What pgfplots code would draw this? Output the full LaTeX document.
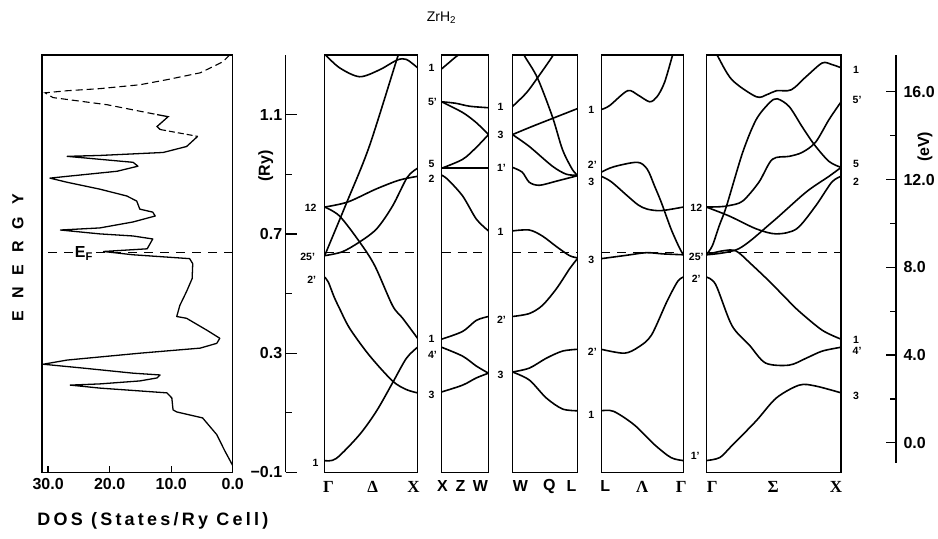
\documentclass[border=0pt]{standalone}
\usepackage{fontspec}
\setmainfont{Liberation Sans}
\newfontfamily\grk{Liberation Serif}
\newfontfamily\spaced[LetterSpace=18]{Liberation Sans}
\usepackage{pgfplots}
\pgfplotsset{compat=1.18}
\pgfplotsset{
 panel/.style={scale only axis, anchor=south west, height=418pt, xmin=0, xmax=1, ymin=-0.1, ymax=1.3,
   xtick=\empty, ytick=\empty, axis line style={line width=1.4pt}},
 band/.style={black, line width=1.6pt, smooth, tension=0.5, no markers},
 ef/.style={black, line width=1.1pt, dash pattern=on 9pt off 7pt, no markers},
}
\newcommand{\bl}[1]{{\fontsize{10.5}{10.5}\selectfont\bfseries #1}}
\newcommand{\gl}[1]{{\fontsize{17}{17}\selectfont\grk\bfseries #1}}
\newcommand{\ssl}[1]{{\fontsize{16}{16}\selectfont\bfseries #1}}

\begin{document}
\begin{tikzpicture}
\path (0,0) rectangle (938pt,539pt);

% ---------------- DOS panel ----------------
\begin{axis}[scale only axis, anchor=south west, at={(42pt,66pt)}, width=191pt, height=418pt,
  x dir=reverse, xmin=0, xmax=31, ymin=-0.1, ymax=1.3,
  xtick={0,10,20,30}, xticklabels={0.0,10.0,20.0,30.0}, xtick pos=left, ytick=\empty,
  tick align=inside, major tick length=7pt, tick style={black, line width=1.3pt},
  axis line style={line width=1.4pt},
  xticklabel style={font=\fontsize{16}{16}\selectfont\bfseries, yshift=-2pt}]
\addplot[black, line width=1.1pt, dash pattern=on 7pt off 4pt] coordinates {
(0.5,1.30)(1.6,1.277)(5.3,1.24)(10.7,1.217)(15.1,1.20)(21.6,1.187)(26.9,1.18)(30.5,1.173)
(29.2,1.157)(20.4,1.133)(12.3,1.10)};
\addplot[black, line width=1.3pt] coordinates {(12.3,1.10)(10.5,1.093)(12.3,1.06)(11.8,1.05)};
\addplot[black, line width=1.1pt, dash pattern=on 6pt off 3pt] coordinates {(11.8,1.05)(5.7,1.027)};
\addplot[black, line width=1.3pt, line join=round] coordinates {
(5.7,1.027)(7.5,0.993)(11.3,0.973)(21.6,0.963)(26.9,0.960)(16.2,0.94)(15.4,0.927)(18.8,0.91)
(26.9,0.893)(29.7,0.887)(26.9,0.873)(21.6,0.85)(17.2,0.827)(15.6,0.81)(15.1,0.783)(13.0,0.773)
(12.6,0.76)(16.2,0.74)(21.6,0.72)(28.0,0.713)(21.6,0.70)(16.2,0.693)(13.0,0.683)(13.9,0.65)
(21.0,0.641)(16.2,0.63)(7.0,0.617)(6.5,0.60)(6.6,0.55)(7.5,0.507)(8.6,0.46)(9.1,0.423)(7.5,0.417)
(4.2,0.377)(2.1,0.35)(2.6,0.333)(5.3,0.317)(15.1,0.30)(26.9,0.277)(30.8,0.263)(24.3,0.25)
(16.2,0.233)(11.8,0.227)(12.3,0.217)(15.1,0.207)(21.6,0.197)(26.4,0.193)(21.6,0.183)(10.7,0.167)
(9.9,0.15)(9.7,0.11)(9.1,0.103)(4.9,0.083)(2.6,0.027)(1.3,-0.027)(0,-0.077)};
\addplot[ef] coordinates {(0,0.637)(31,0.637)};
\end{axis}

% ---------------- Ry axis ----------------
\begin{axis}[scale only axis, anchor=south west, at={(286pt,66pt)}, width=10pt, height=418pt,
  xmin=0, xmax=1, ymin=-0.1, ymax=1.3, axis x line=none, axis y line*=left,
  y axis line style={-, line width=1.3pt},
  ytick={-0.1,0.3,0.7,1.1}, yticklabels={−0.1,0.3,0.7,1.1}, minor ytick={0.1,0.5,0.9},
  tick align=inside, major tick length=11pt, minor tick length=6pt,
  tick style={black, line width=1.3pt},
  yticklabel style={font=\fontsize{16}{16}\selectfont\bfseries}]
\end{axis}

% ---------------- eV axis ----------------
\begin{axis}[scale only axis, anchor=south east, at={(897pt,76pt)}, width=10pt, height=408pt,
  xmin=0, xmax=1, ymin=-0.9, ymax=17.68, axis x line=none, axis y line*=right,
  y axis line style={-, line width=1.3pt},
  ytick={0,4,8,12,16}, yticklabels={0.0,4.0,8.0,12.0,16.0}, minor ytick={2,6,10,14},
  tick align=inside, major tick length=10pt, minor tick length=6pt,
  tick style={black, line width=1.3pt},
  yticklabel style={font=\fontsize{16}{16}\selectfont\bfseries, xshift=4pt}]
\end{axis}

% ---------------- Panel 1: Gamma-Delta-X ----------------
\begin{axis}[panel, at={(325pt,66pt)}, width=93pt]
\addplot[band] coordinates {(0,1.303)(0.16,1.257)(0.376,1.227)(0.59,1.25)(0.78,1.283)(0.88,1.285)(1,1.257)};
\addplot[band] coordinates {(0,0.627)(0.24,0.807)(0.48,0.993)(0.785,1.293)(0.84,1.34)};
\addplot[band] coordinates {(0,0.79)(0.25,0.807)(0.55,0.85)(0.8,0.88)(1,0.893)};
\addplot[band] coordinates {(0,0.627)(0.19,0.64)(0.376,0.673)(0.56,0.717)(0.73,0.793)(0.89,0.89)(1,0.92)};
\addplot[band] coordinates {(0,0.79)(0.16,0.76)(0.376,0.673)(0.54,0.593)(0.73,0.46)(0.84,0.417)(1,0.35)};
\addplot[band] coordinates {(0,0.555)(0.04,0.538)(0.1,0.49)(0.16,0.45)(0.27,0.383)(0.48,0.293)(0.73,0.207)(0.88,0.178)(1,0.167)};
\addplot[band] coordinates {(0,-0.06)(0.125,-0.053)(0.376,0.027)(0.56,0.107)(0.73,0.2)(0.88,0.283)(1,0.32)};
\addplot[ef] coordinates {(0,0.637)(1,0.637)};
\end{axis}

% ---------------- Panel 2: X-Z-W ----------------
\begin{axis}[panel, at={(442pt,66pt)}, width=47pt]
\addplot[band] coordinates {(0,1.253)(0.15,1.273)(0.3,1.293)(0.45,1.31)(0.6,1.33)};
\addplot[band] coordinates {(0,1.143)(0.3,1.138)(0.6,1.128)(1,1.123)};
\addplot[band] coordinates {(0,1.143)(0.45,1.107)(0.74,1.073)(1,1.033)};
\addplot[band] coordinates {(0,0.92)(1,0.92)};
\addplot[band] coordinates {(0,0.92)(0.45,0.95)(0.74,0.99)(1,1.033)};
\addplot[band] coordinates {(0,0.897)(0.13,0.883)(0.45,0.827)(0.74,0.75)(1,0.71)};
\addplot[band] coordinates {(0,0.347)(0.45,0.373)(0.74,0.41)(1,0.423)};
\addplot[band] coordinates {(0,0.32)(0.45,0.29)(0.74,0.257)(1,0.233)};
\addplot[band] coordinates {(0,0.17)(0.45,0.193)(0.74,0.217)(1,0.233)};
\addplot[ef] coordinates {(0,0.637)(1,0.637)};
\end{axis}

% ---------------- Panel 3: W-Q-L ----------------
\begin{axis}[panel, at={(513pt,66pt)}, width=65pt]
\addplot[band] coordinates {(0,1.127)(0.215,1.173)(0.385,1.223)(0.62,1.297)(0.72,1.34)};
\addplot[band] coordinates {(0.12,1.33)(0.185,1.297)(0.385,1.223)(0.615,1.093)(0.77,0.983)(0.92,0.917)(1,0.897)};
\addplot[band] coordinates {(0,1.033)(0.3,1.06)(0.615,1.087)(1,1.12)};
\addplot[band] coordinates {(0,1.033)(0.26,0.993)(0.615,0.927)(0.83,0.9)(1,0.897)};
\addplot[band] coordinates {(0,0.923)(0.15,0.907)(0.26,0.873)(0.415,0.863)(0.68,0.877)(1,0.895)};
\addplot[band] coordinates {(0,0.71)(0.26,0.713)(0.46,0.693)(0.68,0.657)(0.88,0.627)(1,0.62)};
\addplot[band] coordinates {(0,0.423)(0.26,0.433)(0.46,0.46)(0.68,0.517)(0.88,0.583)(1,0.617)};
\addplot[band] coordinates {(0,0.237)(0.26,0.25)(0.52,0.283)(0.77,0.307)(1,0.313)};
\addplot[band] coordinates {(0,0.237)(0.26,0.21)(0.52,0.15)(0.77,0.113)(1,0.107)};
\addplot[ef] coordinates {(0,0.637)(1,0.637)};
\end{axis}

% ---------------- Panel 4: L-Lambda-Gamma ----------------
\begin{axis}[panel, at={(602pt,66pt)}, width=82pt]
\addplot[band] coordinates {(0,1.117)(0.1,1.13)(0.32,1.18)(0.45,1.165)(0.59,1.143)(0.68,1.16)(0.77,1.207)(0.87,1.30)(0.9,1.33)};
\addplot[band] coordinates {(0,0.907)(0.15,0.925)(0.44,0.94)(0.56,0.917)(0.65,0.86)(0.73,0.807)(0.85,0.717)(0.95,0.655)(1,0.63)};
\addplot[band] coordinates {(0,0.893)(0.12,0.875)(0.32,0.827)(0.45,0.797)(0.56,0.783)(0.73,0.778)(1,0.79)};
\addplot[band] coordinates {(0,0.617)(0.3,0.628)(0.55,0.637)(0.75,0.633)(1,0.63)};
\addplot[band] coordinates {(0,0.313)(0.28,0.30)(0.45,0.32)(0.61,0.36)(0.8,0.473)(0.93,0.54)(1,0.555)};
\addplot[band] coordinates {(0,0.107)(0.15,0.105)(0.4,0.06)(0.65,-0.007)(0.85,-0.05)(1,-0.06)};
\addplot[ef] coordinates {(0,0.637)(1,0.637)};
\end{axis}

% ---------------- Panel 5: Gamma-Sigma-X ----------------
\begin{axis}[panel, at={(707pt,66pt)}, width=135pt]
\addplot[band] coordinates {(0.03,1.34)(0.08,1.30)(0.19,1.217)(0.37,1.16)(0.45,1.167)(0.52,1.18)(0.63,1.183)(0.74,1.227)(0.86,1.273)(0.93,1.268)(1,1.257)};
\addplot[band] coordinates {(0,0.63)(0.045,0.66)(0.096,0.727)(0.15,0.793)(0.27,0.973)(0.37,1.083)(0.47,1.14)(0.526,1.153)(0.615,1.127)(0.71,1.06)(0.8,1.0)(0.91,0.943)(1,0.923)};
\addplot[band] coordinates {(0,0.79)(0.1,0.791)(0.17,0.795)(0.27,0.81)(0.39,0.873)(0.49,0.95)(0.615,0.96)(0.71,0.973)(0.81,1.007)(0.91,1.083)(1,1.143)};
\addplot[band] coordinates {(0,0.79)(0.17,0.76)(0.37,0.717)(0.52,0.7)(0.67,0.717)(0.81,0.793)(0.93,0.873)(1,0.893)};
\addplot[band] coordinates {(0,0.63)(0.24,0.65)(0.49,0.74)(0.74,0.84)(0.91,0.893)(1,0.923)};
\addplot[band] coordinates {(0,0.63)(0.12,0.643)(0.22,0.643)(0.33,0.6)(0.47,0.54)(0.6,0.48)(0.69,0.44)(0.86,0.377)(1,0.347)};
\addplot[band] coordinates {(0,0.555)(0.07,0.53)(0.19,0.393)(0.32,0.327)(0.44,0.267)(0.615,0.26)(0.74,0.283)(0.86,0.307)(1,0.32)};
\addplot[band] coordinates {(0,-0.06)(0.1,-0.05)(0.19,-0.01)(0.37,0.073)(0.52,0.15)(0.69,0.193)(0.81,0.19)(1,0.167)};
\addplot[ef] coordinates {(0,0.637)(1,0.637)};
\end{axis}

% ---------------- texts ----------------
\node[font=\fontsize{14}{14}\selectfont] at (442pt,521pt) {ZrH\textsubscript{2}};
\node[rotate=90, font=\fontsize{16}{16}\selectfont\bfseries] at (18pt,281pt)
  {E\hspace{12pt}N\hspace{12pt}E\hspace{12pt}R\hspace{12pt}G\hspace{12pt}Y};
\node[font=\fontsize{18}{18}\selectfont\spaced\bfseries] at (153pt,18pt) {DOS (States/Ry Cell)};
\node[rotate=90, font=\fontsize{16}{16}\selectfont\bfseries] at (266pt,373pt) {(Ry)};
\node[rotate=90, font=\fontsize{16}{16}\selectfont\bfseries] at (926pt,392pt) {(eV)};
\node[fill=white, inner sep=1pt, font=\fontsize{16}{16}\selectfont\bfseries] at (84pt,285pt) {E\textsubscript{F}};

% band labels: Gamma (left of panel 1)
\node at (311pt,331pt) {\bl{12}};
\node at (308pt,282pt) {\bl{25’}};
\node at (312pt,259pt) {\bl{2’}};
\node at (316pt,76pt) {\bl{1}};
% X (between panel 1 and 2)
\node at (432pt,471pt) {\bl{1}};
\node at (433pt,437pt) {\bl{5’}};
\node at (432pt,375pt) {\bl{5}};
\node at (432pt,360pt) {\bl{2}};
\node at (432pt,200pt) {\bl{1}};
\node at (433pt,184pt) {\bl{4’}};
\node at (432pt,144pt) {\bl{3}};
% W
\node at (501pt,432pt) {\bl{1}};
\node at (501pt,404pt) {\bl{3}};
\node at (502pt,371pt) {\bl{1’}};
\node at (501pt,307pt) {\bl{1}};
\node at (502pt,219pt) {\bl{2’}};
\node at (501pt,164pt) {\bl{3}};
% L
\node at (592pt,429pt) {\bl{1}};
\node at (593pt,374pt) {\bl{2’}};
\node at (592pt,357pt) {\bl{3}};
\node at (592pt,279pt) {\bl{3}};
\node at (593pt,187pt) {\bl{2’}};
\node at (592pt,124pt) {\bl{1}};
% Gamma (between panel 4 and 5)
\node at (697pt,331pt) {\bl{12}};
\node at (697pt,282pt) {\bl{25’}};
\node at (697pt,260pt) {\bl{2’}};
\node at (696pt,83pt) {\bl{1’}};
% X (right of panel 5)
\node at (857pt,469pt) {\bl{1}};
\node at (858pt,439pt) {\bl{5’}};
\node at (857pt,375pt) {\bl{5}};
\node at (857pt,357pt) {\bl{2}};
\node at (857pt,199pt) {\bl{1}};
\node at (858pt,188pt) {\bl{4’}};
\node at (857pt,143pt) {\bl{3}};

% symmetry point labels
\node at (329pt,52pt) {\gl{Γ}};
\node at (373pt,52pt) {\gl{Δ}};
\node at (414pt,52pt) {\gl{X}};
\node at (443pt,52pt) {\ssl{X}};
\node at (461pt,52pt) {\ssl{Z}};
\node at (481pt,52pt) {\ssl{W}};
\node at (521pt,52pt) {\ssl{W}};
\node at (550pt,52pt) {\ssl{Q}};
\node at (572pt,52pt) {\ssl{L}};
\node at (606pt,52pt) {\ssl{L}};
\node at (643pt,52pt) {\gl{Λ}};
\node at (682pt,52pt) {\gl{Γ}};
\node at (713pt,52pt) {\gl{Γ}};
\node at (774pt,52pt) {\gl{Σ}};
\node at (837pt,52pt) {\gl{X}};
\end{tikzpicture}
\end{document}
